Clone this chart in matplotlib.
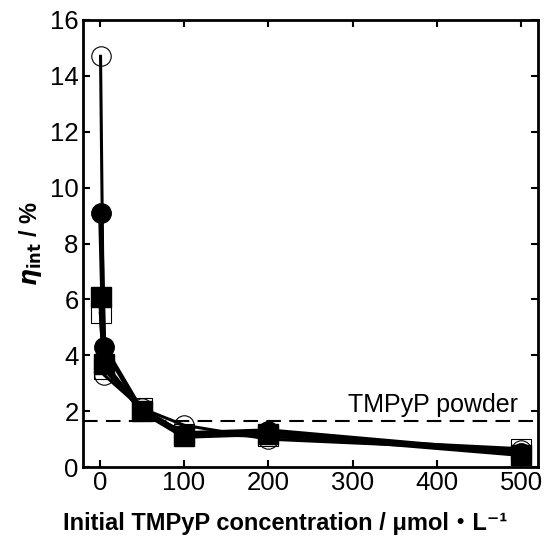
import numpy as np
import matplotlib.pyplot as plt

plt.rcParams['font.family'] = ['Liberation Sans', 'DejaVu Sans']

conc = [1, 5, 50, 100, 200, 500]
open_circle = [14.7, 3.3, 2.1, 1.5, 1.0, 0.6]
filled_circle = [9.1, 4.3, 2.0, 1.2, 1.3, 0.5]
open_square = [5.5, 3.5, 2.1, 1.2, 1.1, 0.65]
filled_square = [6.1, 3.7, 2.0, 1.1, 1.2, 0.45]
powder = 1.65

fig = plt.figure(figsize=(5.45, 5.4), dpi=100)
ax = fig.add_axes([0.152, 0.135, 0.835, 0.828])

ax.axhline(powder, color='black', lw=1.5, ls=(0, (7, 4)), zorder=1)
ax.text(496, 1.98, 'TMPyP powder', fontsize=18, ha='right', va='baseline')

ax.plot(conc, open_circle, '-o', color='black', lw=2.2, ms=14, mfc='none', mew=0.8, zorder=2)
ax.plot(conc, open_square, '-s', color='black', lw=2.5, ms=14, mfc='none', mew=0.8, zorder=2)
ax.plot(conc, filled_circle, '-o', color='black', lw=3.5, ms=14, zorder=3)
ax.plot(conc, filled_square, '-s', color='black', lw=3.5, ms=14, zorder=3)

ax.set_xlim(-20, 520)
ax.set_ylim(0, 16)
ax.set_xticks([0, 100, 200, 300, 400, 500])
ax.set_yticks([0, 2, 4, 6, 8, 10, 12, 14, 16])
ax.tick_params(direction='in', top=True, right=True, labelsize=18.5, length=5, width=1.5, pad=3)
for s in ax.spines.values():
    s.set_linewidth(2)

ax.set_xlabel('Initial TMPyP concentration / μmol・L⁻¹', fontsize=17, fontweight='bold',
              family=['Liberation Sans', 'Noto Sans CJK JP', 'DejaVu Sans'])
ax.xaxis.set_label_coords(0.445, -0.1)
ax.set_ylabel('$\\boldsymbol{\\eta}_{\\mathbf{int}}$ / %', fontsize=17, fontweight='bold', labelpad=4)

fig.savefig('out.png', dpi=100)
